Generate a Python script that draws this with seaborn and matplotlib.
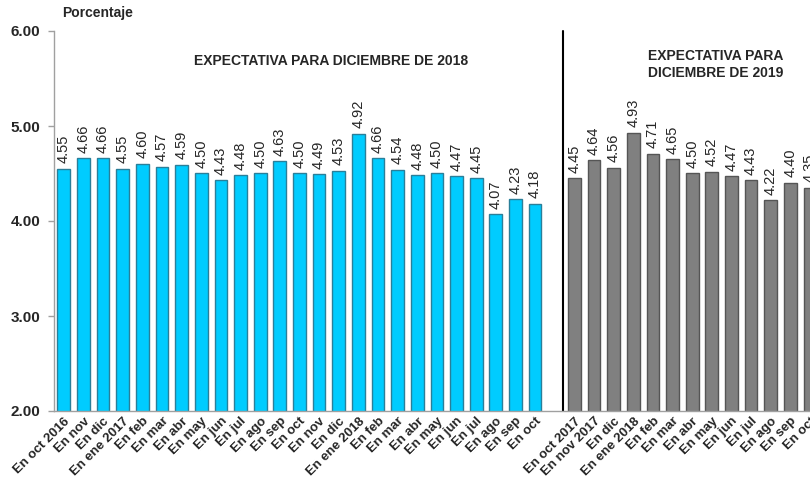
import matplotlib
matplotlib.use("Agg")
import matplotlib.pyplot as plt
import seaborn as sns
import pandas as pd

# datos: expectativa de inflacion para diciembre 2018 y diciembre 2019
etiquetas_2018 = ['En oct 2016', 'En nov', 'En dic', 'En ene 2017', 'En feb', 'En mar', 'En abr',
                  'En may', 'En jun', 'En jul', 'En ago', 'En sep', 'En oct', 'En nov', 'En dic',
                  'En ene 2018', 'En feb', 'En mar', 'En abr', 'En may', 'En jun', 'En jul',
                  'En ago', 'En sep', 'En oct']
valores_2018 = [4.55, 4.66, 4.66, 4.55, 4.60, 4.57, 4.59, 4.50, 4.43, 4.48, 4.50, 4.63, 4.50,
                4.49, 4.53, 4.92, 4.66, 4.54, 4.48, 4.50, 4.47, 4.45, 4.07, 4.23, 4.18]

etiquetas_2019 = ['En oct 2017', 'En nov 2017', 'En dic', 'En ene 2018', 'En feb', 'En mar',
                  'En abr', 'En may', 'En jun', 'En jul', 'En ago', 'En sep', 'En oct']
valores_2019 = [4.45, 4.64, 4.56, 4.93, 4.71, 4.65, 4.50, 4.52, 4.47, 4.43, 4.22, 4.40, 4.35]

titulo_2018 = 'EXPECTATIVA PARA DICIEMBRE DE 2018'
titulo_2019 = 'EXPECTATIVA PARA\nDICIEMBRE DE 2019'

claves_a = ['a%d' % i for i in range(len(valores_2018))]
claves_b = ['b%d' % i for i in range(len(valores_2019))]
orden = claves_a + ['hueco'] + claves_b

df = pd.DataFrame({
    'clave': claves_a + claves_b,
    'valor': valores_2018 + valores_2019,
    'serie': ['2018'] * len(valores_2018) + ['2019'] * len(valores_2019),
})

sns.set_style('white')
plt.rcParams['font.family'] = ['Liberation Sans', 'DejaVu Sans']

fig = plt.figure(figsize=(8.1, 4.83), dpi=100)
ax = fig.add_axes([54 / 810, 72 / 483, 1 - 54 / 810, 380 / 483])

sns.barplot(data=df, x='clave', y='valor', hue='serie', order=orden, dodge=False,
            palette={'2018': '#00CCFF', '2019': '#808080'}, width=0.65, saturation=1,
            linewidth=1, legend=False, ax=ax)

bordes = {0: '#2A7F99', 1: '#555555'}
for i, cont in enumerate(ax.containers):
    for p in cont:
        p.set_edgecolor(bordes[i])
    ax.bar_label(cont, fmt='%.2f', rotation=90, padding=4, fontsize=10.5)

ax.set_ylim(2, 6)
ax.set_yticks([2, 3, 4, 5, 6])
ax.set_yticklabels(['%.2f' % v for v in [2, 3, 4, 5, 6]], fontsize=11, fontweight='bold')
ax.set_xlim(-0.5, 37.75)
ax.set_xticks(range(len(orden)))
ax.set_xticklabels(etiquetas_2018 + [''] + etiquetas_2019, rotation=45, ha='right',
                   rotation_mode='anchor', fontsize=9.5, fontweight='bold')
ax.tick_params(axis='x', length=0, pad=3)
ax.tick_params(axis='y', length=4, color='#A0A0A0', width=1, pad=6, left=True)
ax.set_xlabel('')
ax.set_ylabel('')

for lado in ['top', 'right']:
    ax.spines[lado].set_visible(False)
for lado in ['left', 'bottom']:
    ax.spines[lado].set_color('#A0A0A0')
    ax.spines[lado].set_linewidth(1)

# linea separadora entre los dos paneles
ax.axvline(25.4, ymin=0, ymax=1.0, color='black', linewidth=1.5, clip_on=False)

ax.text(13.6, 5.68, titulo_2018, ha='center', va='center', fontsize=10, fontweight='bold')
ax.text(33.2, 5.65, titulo_2019, ha='center', va='center', fontsize=10,
        fontweight='bold', linespacing=1.25)
fig.text(62 / 810, 1 - 13 / 483, 'Porcentaje', ha='left', va='center', fontsize=10,
         fontweight='bold')

fig.savefig('out.png', dpi=100)
